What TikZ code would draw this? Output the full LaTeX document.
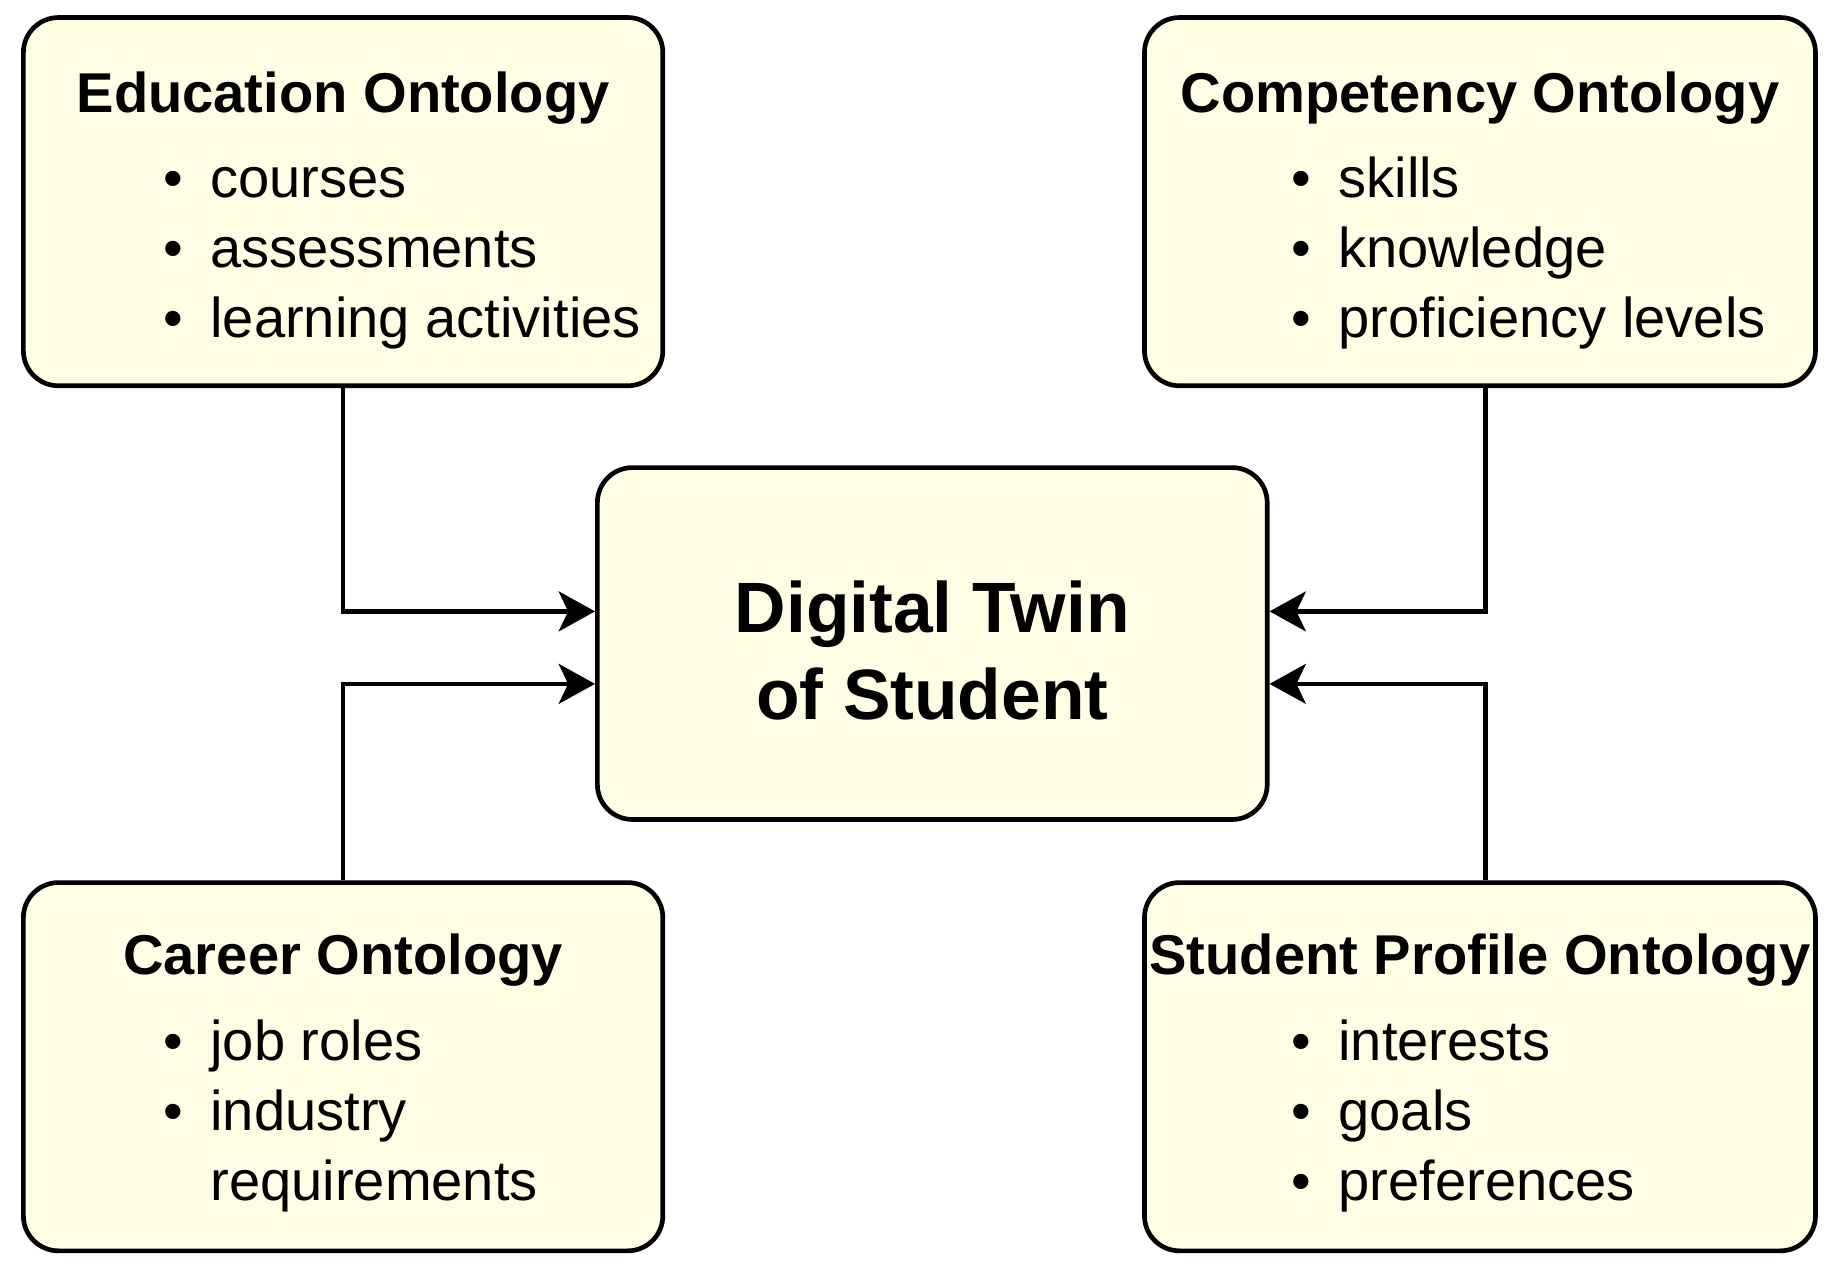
\documentclass[tikz,border=0pt]{standalone}
\usepackage{fontspec}
\setmainfont{Liberation Sans}
\usepackage{xcolor}
\usepackage{tikz}
\usetikzlibrary{arrows.meta}
\definecolor{cream}{RGB}{255,253,228}
\newlength{\ontind}
\setlength{\ontind}{60pt}
\newcommand{\onttitle}[2][7.5pt]{\vspace*{#1}\centering\textbf{#2}\par\raggedright\vspace{6.5pt}}
\newcommand{\ontitem}[1]{\par\hspace*{\ontind}\makebox[20pt][l]{\textbullet}#1}
\newcommand{\ontcont}[1]{\par\hspace*{\ontind}\hspace*{20pt}#1}

\tikzset{
  ontbox/.style={draw, line width=2pt, rounded corners=15pt, fill=cream,
    inner sep=0pt, minimum height=157.5pt},
  conn/.style={line width=2pt, -{Stealth[length=15.5pt, width=17pt, inset=4pt]}}
}

\begin{document}
\begin{tikzpicture}
    \path[use as bounding box, fill=white] (0,0) rectangle (784pt,-543pt);

    % ontologies
    \node[ontbox, minimum width=273.5pt] (edu) at (146.75pt,-86.25pt)
      {\parbox{273.5pt}{\fontsize{24}{30}\selectfont
        \onttitle{Education Ontology}
        \ontitem{courses}
        \ontitem{assessments}
        \ontitem{learning activities}
      }};
    \node[ontbox, minimum width=287pt] (comp) at (633pt,-86.25pt)
      {\parbox{287pt}{\fontsize{24}{30}\selectfont\setlength{\ontind}{63pt}
        \onttitle{Competency Ontology}
        \ontitem{skills}
        \ontitem{knowledge}
        \ontitem{proficiency levels}
      }};
    \node[ontbox, minimum width=273.5pt] (career) at (146.75pt,-456.25pt)
      {\parbox{273.5pt}{\fontsize{24}{30}\selectfont
        \onttitle[5.5pt]{Career Ontology}
        \ontitem{job roles}
        \ontitem{industry}
        \ontcont{requirements}
      }};
    \node[ontbox, minimum width=287pt] (profile) at (633pt,-456.25pt)
      {\parbox{287pt}{\fontsize{24}{30}\selectfont\setlength{\ontind}{63pt}
        \onttitle[5.5pt]{Student Profile Ontology}
        \ontitem{interests}
        \ontitem{goals}
        \ontitem{preferences}
      }};

    % digital twin
    \node[ontbox, minimum width=286.5pt, minimum height=150.5pt] (twin) at (398.75pt,-275.25pt)
      {\parbox{286.5pt}{\fontsize{30.5}{37.5}\selectfont\bfseries
        \vspace*{6pt}\centering Digital Twin\\of Student}};

    \draw[conn] (edu.south) |- ([yshift=13.75pt]twin.west);
    \draw[conn] (career.north) |- ([yshift=-17.25pt]twin.west);
    \draw[conn] ([xshift=2.5pt]comp.south) |- ([yshift=13.75pt]twin.east);
    \draw[conn] ([xshift=2.5pt]profile.north) |- ([yshift=-17.25pt]twin.east);
\end{tikzpicture}
\end{document}
